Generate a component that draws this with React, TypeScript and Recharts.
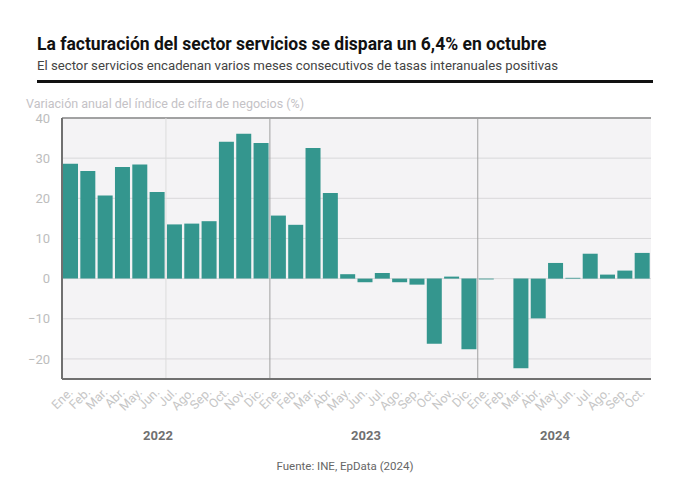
import React from "react";
import {
  Bar,
  BarChart,
  CartesianGrid,
  ReferenceLine,
  XAxis,
  YAxis,
} from "recharts";

const MONTHS = ["Ene.", "Feb.", "Mar.", "Abr.", "May.", "Jun.", "Jul.", "Ago.", "Sep.", "Oct.", "Nov.", "Dic."];
const YEARS = ["2022", "2023", "2024"];

// Variación anual (%) por mes
const VALUES_2022 = [28.6, 26.8, 20.7, 27.8, 28.4, 21.6, 13.5, 13.7, 14.3, 34.1, 36.1, 33.8];
const VALUES_2023 = [15.7, 13.4, 32.5, 21.3, 1.1, -0.9, 1.4, -0.9, -1.5, -16.2, 0.5, -17.6];
const VALUES_2024 = [-0.2, 0, -22.3, -9.9, 3.9, 0.2, 6.2, 1.0, 2.0, 6.4];

const Y_TICKS = [-20, -10, 0, 10, 20, 30, 40];

const data = [VALUES_2022, VALUES_2023, VALUES_2024].flatMap((vals, yi) =>
  vals.map((v, mi) => ({ key: `${MONTHS[mi]} ${YEARS[yi]}`, mes: MONTHS[mi], value: v })),
);

const FONT = "Roboto, 'Noto Sans', sans-serif";

function MonthTick(props: any) {
  const { x, y, payload } = props;
  const label = String(payload.value).split(" ")[0];
  return (
    <text
      x={x + 3}
      y={y + 6}
      textAnchor="end"
      transform={`rotate(-45 ${x + 3} ${y + 6})`}
      fill="#c6c6c6"
      fontSize={12.5}
      fontFamily={FONT}
    >
      {label}
    </text>
  );
}

const fmt = (v: number) => (v < 0 ? `−${Math.abs(v)}` : `${v}`);

export default function App() {
  return (
    <div
      style={{
        position: "absolute",
        left: 0,
        top: 0,
        width: 690,
        height: 493,
        background: "#fff",
        fontFamily: FONT,
      }}
    >
      <div style={{ position: "absolute", left: 37, top: 34, fontSize: 17.5, fontWeight: 700, color: "#111" }}>
        La facturación del sector servicios se dispara un 6,4% en octubre
      </div>
      <div style={{ position: "absolute", left: 37, top: 58, fontSize: 13.2, color: "#444" }}>
        El sector servicios encadenan varios meses consecutivos de tasas interanuales positivas
      </div>
      <div style={{ position: "absolute", left: 37, top: 80, width: 616, height: 3, background: "#111" }} />
      <div style={{ position: "absolute", left: 26, top: 96, fontSize: 12.5, color: "#c4c2c6" }}>
        Variación anual del índice de cifra de negocios (%)
      </div>

      <div style={{ position: "absolute", left: 0, top: 0 }}>
        <BarChart
          width={690}
          height={493}
          data={data}
          margin={{ top: 118, right: 39, bottom: 64, left: 22 }}
          barCategoryGap={1}
        >
          <CartesianGrid fill="#f4f3f5" stroke="#d9d8da" vertical={false} />
          <XAxis
            dataKey="key"
            interval={0}
            height={50}
            tick={<MonthTick />}
            tickLine={false}
            axisLine={{ stroke: "#707070", strokeWidth: 2 }}
          />
          <YAxis
            domain={[-25, 40]}
            ticks={Y_TICKS}
            width={40}
            tickFormatter={fmt}
            tickLine={false}
            tickMargin={6}
            tick={{ fill: "#bdbdbd", fontSize: 13, fontFamily: FONT }}
            axisLine={{ stroke: "#707070", strokeWidth: 2 }}
          />
          <ReferenceLine y={40} stroke="#8a8a8a" strokeWidth={1.5} />
          <ReferenceLine x={`Jul. ${YEARS[0]}`} position="start" stroke="#dcdcdc" />
          <ReferenceLine x={`Ene. ${YEARS[1]}`} position="start" stroke="#a0a0a0" />
          <ReferenceLine x={`Ene. ${YEARS[2]}`} position="start" stroke="#a0a0a0" />
          <Bar dataKey="value" fill="#34968e" isAnimationActive={false} />
        </BarChart>
      </div>

      <div style={{ position: "absolute", left: 143, top: 428, fontSize: 13, fontWeight: 700, color: "#707070" }}>
        {YEARS[0]}
      </div>
      <div style={{ position: "absolute", left: 351, top: 428, fontSize: 13, fontWeight: 700, color: "#707070" }}>
        {YEARS[1]}
      </div>
      <div style={{ position: "absolute", left: 540, top: 428, fontSize: 13, fontWeight: 700, color: "#707070" }}>
        {YEARS[2]}
      </div>
      <div style={{ position: "absolute", left: 0, width: 690, top: 459, textAlign: "center", fontSize: 11.5, color: "#666" }}>
        Fuente: INE, EpData (2024)
      </div>
    </div>
  );
}
